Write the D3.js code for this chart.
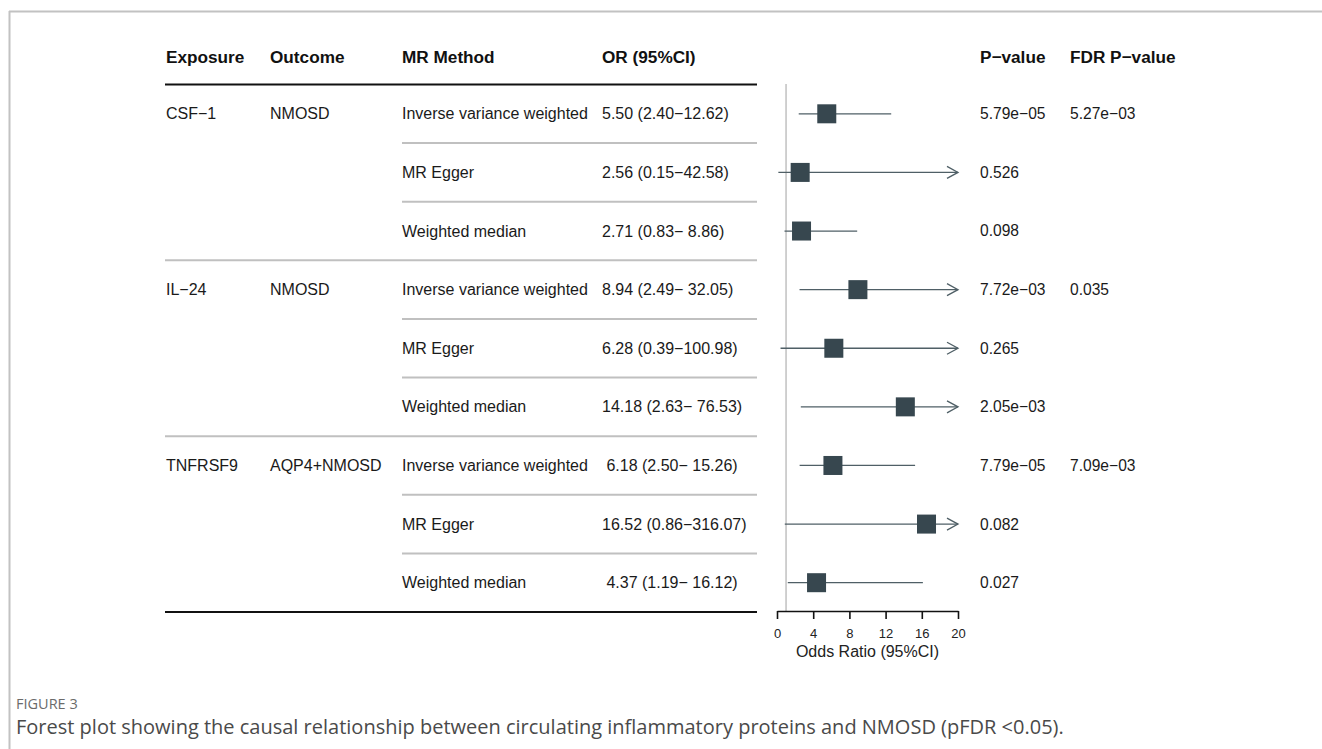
<!DOCTYPE html>
<html><head><meta charset="utf-8">
<script src="https://cdn.jsdelivr.net/npm/d3@7"></script>
<style>
html,body{margin:0;padding:0;background:#fff;}
svg{display:block;}
</style></head>
<body>
<svg id="chart" width="1322" height="749"></svg>
<script>
const exposures = ["CSF−1", "", "", "IL−24", "", "", "TNFRSF9", "", ""];
const outcomes  = ["NMOSD", "", "", "NMOSD", "", "", "AQP4+NMOSD", "", ""];
const methods   = ["Inverse variance weighted", "MR Egger", "Weighted median",
                   "Inverse variance weighted", "MR Egger", "Weighted median",
                   "Inverse variance weighted", "MR Egger", "Weighted median"];
const orValues  = [5.50, 2.56, 2.71, 8.94, 6.28, 14.18, 6.18, 16.52, 4.37];
const lowerCI   = [2.40, 0.15, 0.83, 2.49, 0.39, 2.63, 2.50, 0.86, 1.19];
const upperCI   = [12.62, 42.58, 8.86, 32.05, 100.98, 76.53, 15.26, 316.07, 16.12];
const orLabels  = ["5.50 (2.40−12.62)", "2.56 (0.15−42.58)", "2.71 (0.83− 8.86)",
                   "8.94 (2.49− 32.05)", "6.28 (0.39−100.98)", "14.18 (2.63− 76.53)",
                   " 6.18 (2.50− 15.26)", "16.52 (0.86−316.07)", " 4.37 (1.19− 16.12)"];
const pValues   = ["5.79e−05", "0.526", "0.098", "7.72e−03", "0.265", "2.05e−03", "7.79e−05", "0.082", "0.027"];
const fdrValues = ["5.27e−03", "", "", "0.035", "", "", "7.09e−03", "", ""];
const headers   = ["Exposure", "Outcome", "MR Method", "OR (95%CI)", "P−value", "FDR P−value"];
const xTicks    = [0, 4, 8, 12, 16, 20];

const svg = d3.select("#chart");
const font = "'Liberation Sans', Arial, sans-serif";

// frame
svg.append("line").attr("x1", 9).attr("x2", 1322).attr("y1", 11.5).attr("y2", 11.5)
  .attr("stroke", "#c2c2c2").attr("stroke-width", 2);
svg.append("line").attr("x1", 9.5).attr("x2", 9.5).attr("y1", 11).attr("y2", 749)
  .attr("stroke", "#c2c2c2").attr("stroke-width", 2);

const x = d3.scaleLinear().domain([0, 20]).range([777, 958]);
const y = d3.scaleBand().domain(d3.range(methods.length)).range([84.5, 612]).paddingInner(0);
const yc = i => y(i) + y.bandwidth() / 2;

const colX = [166, 270, 402, 602, 980, 1070];

// headers
svg.append("g").selectAll("text").data(headers).join("text")
  .attr("x", (d, i) => colX[i]).attr("y", 57).attr("dy", "0.35em")
  .attr("font-family", font).attr("font-weight", "bold").attr("font-size", 17.2)
  .attr("fill", "#111").text(d => d);

// thick rules
svg.append("line").attr("x1", 165).attr("x2", 757).attr("y1", 84.5).attr("y2", 84.5)
  .attr("stroke", "#111").attr("stroke-width", 2.2);
svg.append("line").attr("x1", 165).attr("x2", 757).attr("y1", 612).attr("y2", 612)
  .attr("stroke", "#111").attr("stroke-width", 2.2);

// separators
const seps = d3.range(1, methods.length);
svg.append("g").selectAll("line").data(seps).join("line")
  .attr("x1", i => (i % 3 === 0 ? 165 : 402)).attr("x2", 757)
  .attr("y1", i => y(i)).attr("y2", i => y(i))
  .attr("stroke", "#c0c0c0").attr("stroke-width", 2);

// text columns
const cols = [exposures, outcomes, methods, orLabels, pValues, fdrValues];
const sizes = [16, 16, 16, 16, 15.6, 15.6];
cols.forEach((arr, c) => {
  svg.append("g").selectAll("text").data(arr).join("text")
    .attr("x", colX[c]).attr("y", (d, i) => yc(i)).attr("dy", "0.35em")
    .attr("font-family", font).attr("font-size", sizes[c]).attr("fill", "#1a1a1a")
    .style("white-space", "pre").attr("xml:space", "preserve")
    .text(d => d);
});

// reference line at OR = 1
svg.append("line").attr("x1", x(1)).attr("x2", x(1)).attr("y1", 84).attr("y2", 611)
  .attr("stroke", "#c4c4c4").attr("stroke-width", 1.6);

// CI lines
const lineColor = "#4f5f66";
const g = svg.append("g");
methods.forEach((m, i) => {
  const lo = Math.max(lowerCI[i], 0), hi = Math.min(upperCI[i], 20);
  const cy = yc(i);
  g.append("line").attr("x1", x(lo)).attr("x2", x(hi)).attr("y1", cy).attr("y2", cy)
    .attr("stroke", lineColor).attr("stroke-width", 1.3);
  if (upperCI[i] > 20) {
    g.append("path")
      .attr("d", `M${x(20) - 11},${cy - 6}L${x(20)},${cy}L${x(20) - 11},${cy + 6}`)
      .attr("fill", "none").attr("stroke", lineColor).attr("stroke-width", 1.3);
  }
  const s = 19;
  g.append("rect").attr("x", x(orValues[i]) - s / 2).attr("y", cy - s / 2)
    .attr("width", s).attr("height", s).attr("fill", "#37474f");
});

// axis
const axis = d3.axisBottom(x).tickValues(xTicks).tickSize(8).tickSizeOuter(0).tickPadding(10);
const ax = svg.append("g").attr("transform", "translate(0,611)").call(axis);
ax.select(".domain").attr("stroke", "#111").attr("stroke-width", 1.6);
ax.selectAll(".tick line").attr("stroke", "#111").attr("stroke-width", 1.6);
ax.selectAll(".tick text").attr("font-family", font).attr("font-size", 13).attr("fill", "#222");
svg.append("text").attr("x", x(10)).attr("y", 651).attr("dy", "0.35em")
  .attr("text-anchor", "middle").attr("font-family", font).attr("font-size", 16)
  .attr("fill", "#222").text("Odds Ratio (95%CI)");

// caption
const capFont = "'Open Sans', 'Noto Sans', sans-serif";
svg.append("text").attr("x", 16).attr("y", 704).attr("dy", "0.35em")
  .attr("font-family", capFont).attr("font-size", 14.5).attr("fill", "#6b6b6b")
  .text("FIGURE 3");
svg.append("text").attr("x", 16).attr("y", 727).attr("dy", "0.35em")
  .attr("font-family", capFont).attr("font-size", 20).attr("fill", "#4a4a4a")
  .text("Forest plot showing the causal relationship between circulating inflammatory proteins and NMOSD (pFDR <0.05).");
</script>
</body></html>
